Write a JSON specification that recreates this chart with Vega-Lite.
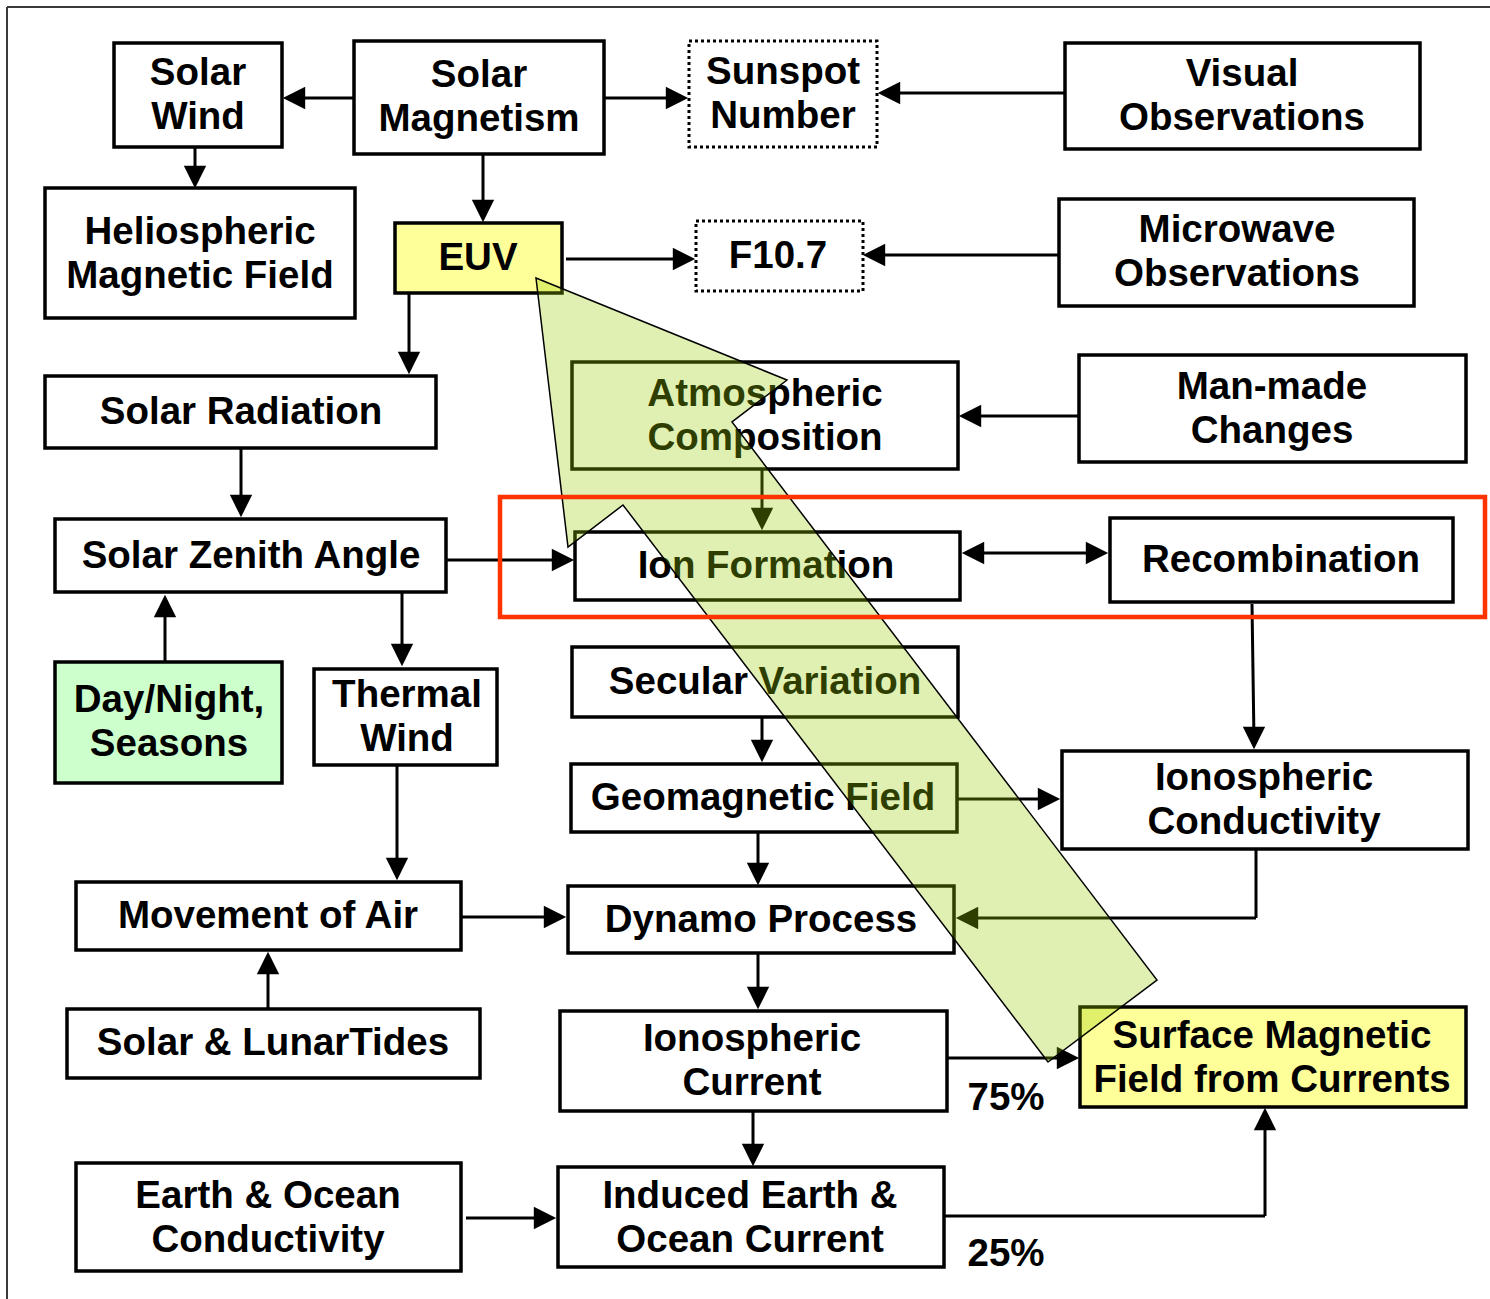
{
  "$schema": "https://vega.github.io/schema/vega-lite/v6.json",
  "width": 1490,
  "height": 1299,
  "autosize": "none",
  "padding": 0,
  "background": "white",
  "config": {"view": {"stroke": null}},
  "datasets": {
    "frame": [
      {"x1": 7, "y1": 7, "x2": 1490, "y2": 7},
      {"x1": 7, "y1": 7, "x2": 7, "y2": 1299}
    ],
    "boxes": [
      {"name": "Solar\nWind", "lines": 2, "x1": 114, "y1": 43, "x2": 282, "y2": 147, "cx": 198, "cy": 95, "fillKind": "white", "border": "solid"},
      {"name": "Solar\nMagnetism", "lines": 2, "x1": 354, "y1": 41, "x2": 604, "y2": 154, "cx": 479, "cy": 97, "fillKind": "white", "border": "solid"},
      {"name": "Sunspot\nNumber", "lines": 2, "x1": 689, "y1": 41, "x2": 877, "y2": 147, "cx": 783, "cy": 94, "fillKind": "white", "border": "dotted"},
      {"name": "Visual\nObservations", "lines": 2, "x1": 1065, "y1": 43, "x2": 1420, "y2": 149, "cx": 1242, "cy": 96, "fillKind": "white", "border": "solid"},
      {"name": "Heliospheric\nMagnetic Field", "lines": 2, "x1": 45, "y1": 188, "x2": 355, "y2": 318, "cx": 200, "cy": 254, "fillKind": "white", "border": "solid"},
      {"name": "EUV", "lines": 1, "x1": 395, "y1": 223, "x2": 562, "y2": 293, "cx": 478, "cy": 258, "fillKind": "yellow", "border": "solid"},
      {"name": "F10.7", "lines": 1, "x1": 696, "y1": 221, "x2": 863, "y2": 291, "cx": 778, "cy": 256, "fillKind": "white", "border": "dotted"},
      {"name": "Microwave\nObservations", "lines": 2, "x1": 1059, "y1": 199, "x2": 1414, "y2": 306, "cx": 1237, "cy": 252, "fillKind": "white", "border": "solid"},
      {"name": "Solar Radiation", "lines": 1, "x1": 45, "y1": 376, "x2": 436, "y2": 448, "cx": 241, "cy": 412, "fillKind": "white", "border": "solid"},
      {"name": "Atmospheric\nComposition", "lines": 2, "x1": 572, "y1": 362, "x2": 958, "y2": 469, "cx": 765, "cy": 416, "fillKind": "white", "border": "solid"},
      {"name": "Man-made\nChanges", "lines": 2, "x1": 1079, "y1": 355, "x2": 1466, "y2": 462, "cx": 1272, "cy": 409, "fillKind": "white", "border": "solid"},
      {"name": "Solar Zenith Angle", "lines": 1, "x1": 55, "y1": 519, "x2": 446, "y2": 592, "cx": 251, "cy": 556, "fillKind": "white", "border": "solid"},
      {"name": "Ion Formation", "lines": 1, "x1": 575, "y1": 532, "x2": 960, "y2": 600, "cx": 766, "cy": 566, "fillKind": "white", "border": "solid"},
      {"name": "Recombination", "lines": 1, "x1": 1110, "y1": 518, "x2": 1453, "y2": 602, "cx": 1281, "cy": 560, "fillKind": "white", "border": "solid"},
      {"name": "Day/Night,\nSeasons", "lines": 2, "x1": 55, "y1": 662, "x2": 282, "y2": 783, "cx": 169, "cy": 722, "fillKind": "green", "border": "solid"},
      {"name": "Thermal\nWind", "lines": 2, "x1": 314, "y1": 669, "x2": 497, "y2": 765, "cx": 407, "cy": 717, "fillKind": "white", "border": "solid"},
      {"name": "Secular Variation", "lines": 1, "x1": 572, "y1": 647, "x2": 958, "y2": 717, "cx": 765, "cy": 682, "fillKind": "white", "border": "solid"},
      {"name": "Geomagnetic Field", "lines": 1, "x1": 571, "y1": 764, "x2": 957, "y2": 832, "cx": 763, "cy": 798, "fillKind": "white", "border": "solid"},
      {"name": "Ionospheric\nConductivity", "lines": 2, "x1": 1062, "y1": 751, "x2": 1468, "y2": 849, "cx": 1264, "cy": 800, "fillKind": "white", "border": "solid"},
      {"name": "Movement of Air", "lines": 1, "x1": 76, "y1": 882, "x2": 461, "y2": 950, "cx": 268, "cy": 916, "fillKind": "white", "border": "solid"},
      {"name": "Dynamo Process", "lines": 1, "x1": 568, "y1": 886, "x2": 954, "y2": 953, "cx": 761, "cy": 920, "fillKind": "white", "border": "solid"},
      {"name": "Solar & LunarTides", "lines": 1, "x1": 67, "y1": 1009, "x2": 480, "y2": 1078, "cx": 273, "cy": 1043, "fillKind": "white", "border": "solid"},
      {"name": "Ionospheric\nCurrent", "lines": 2, "x1": 560, "y1": 1011, "x2": 947, "y2": 1111, "cx": 752, "cy": 1061, "fillKind": "white", "border": "solid"},
      {"name": "Surface Magnetic\nField from Currents", "lines": 2, "x1": 1080, "y1": 1007, "x2": 1466, "y2": 1107, "cx": 1272, "cy": 1058, "fillKind": "yellow", "border": "solid"},
      {"name": "Earth & Ocean\nConductivity", "lines": 2, "x1": 76, "y1": 1163, "x2": 461, "y2": 1271, "cx": 268, "cy": 1218, "fillKind": "white", "border": "solid"},
      {"name": "Induced Earth &\nOcean Current", "lines": 2, "x1": 558, "y1": 1167, "x2": 944, "y2": 1267, "cx": 750, "cy": 1218, "fillKind": "white", "border": "solid"}
    ],
    "segs": [
      {"x1": 354, "y1": 98, "x2": 290, "y2": 98},
      {"x1": 195, "y1": 147, "x2": 195, "y2": 180},
      {"x1": 604, "y1": 98, "x2": 680, "y2": 98},
      {"x1": 1065, "y1": 93, "x2": 885, "y2": 93},
      {"x1": 483, "y1": 154, "x2": 483, "y2": 214},
      {"x1": 566, "y1": 259, "x2": 688, "y2": 259},
      {"x1": 1059, "y1": 255, "x2": 870, "y2": 255},
      {"x1": 409, "y1": 293, "x2": 409, "y2": 366},
      {"x1": 241, "y1": 448, "x2": 241, "y2": 509},
      {"x1": 1079, "y1": 416, "x2": 966, "y2": 416},
      {"x1": 762, "y1": 469, "x2": 762, "y2": 522},
      {"x1": 446, "y1": 560, "x2": 566, "y2": 560},
      {"x1": 970, "y1": 553, "x2": 1100, "y2": 553},
      {"x1": 1252, "y1": 604, "x2": 1254, "y2": 741},
      {"x1": 165, "y1": 662, "x2": 165, "y2": 603},
      {"x1": 402, "y1": 592, "x2": 402, "y2": 658},
      {"x1": 762, "y1": 717, "x2": 762, "y2": 754},
      {"x1": 957, "y1": 799, "x2": 1052, "y2": 799},
      {"x1": 397, "y1": 765, "x2": 397, "y2": 872},
      {"x1": 758, "y1": 832, "x2": 758, "y2": 878},
      {"x1": 1256, "y1": 849, "x2": 1256, "y2": 918},
      {"x1": 1256, "y1": 918, "x2": 964, "y2": 918},
      {"x1": 461, "y1": 917, "x2": 558, "y2": 917},
      {"x1": 268, "y1": 1009, "x2": 268, "y2": 960},
      {"x1": 758, "y1": 953, "x2": 758, "y2": 1001},
      {"x1": 947, "y1": 1058, "x2": 1071, "y2": 1058},
      {"x1": 753, "y1": 1111, "x2": 753, "y2": 1159},
      {"x1": 466, "y1": 1218, "x2": 548, "y2": 1218},
      {"x1": 944, "y1": 1216, "x2": 1265, "y2": 1216},
      {"x1": 1265, "y1": 1216, "x2": 1265, "y2": 1116}
    ],
    "heads": [
      {"cx": 294, "cy": 98, "dir": "left"},
      {"cx": 195, "cy": 177, "dir": "down"},
      {"cx": 677, "cy": 98, "dir": "right"},
      {"cx": 889, "cy": 93, "dir": "left"},
      {"cx": 483, "cy": 211, "dir": "down"},
      {"cx": 684, "cy": 259, "dir": "right"},
      {"cx": 874, "cy": 255, "dir": "left"},
      {"cx": 409, "cy": 363, "dir": "down"},
      {"cx": 241, "cy": 506, "dir": "down"},
      {"cx": 970, "cy": 416, "dir": "left"},
      {"cx": 762, "cy": 519, "dir": "down"},
      {"cx": 563, "cy": 560, "dir": "right"},
      {"cx": 973, "cy": 553, "dir": "left"},
      {"cx": 1097, "cy": 553, "dir": "right"},
      {"cx": 1254, "cy": 738, "dir": "down"},
      {"cx": 165, "cy": 606, "dir": "up"},
      {"cx": 402, "cy": 655, "dir": "down"},
      {"cx": 762, "cy": 751, "dir": "down"},
      {"cx": 1049, "cy": 799, "dir": "right"},
      {"cx": 397, "cy": 869, "dir": "down"},
      {"cx": 758, "cy": 874, "dir": "down"},
      {"cx": 967, "cy": 918, "dir": "left"},
      {"cx": 555, "cy": 917, "dir": "right"},
      {"cx": 268, "cy": 963, "dir": "up"},
      {"cx": 758, "cy": 998, "dir": "down"},
      {"cx": 1068, "cy": 1058, "dir": "right"},
      {"cx": 753, "cy": 1155, "dir": "down"},
      {"cx": 545, "cy": 1218, "dir": "right"},
      {"cx": 1265, "cy": 1119, "dir": "up"}
    ],
    "highlight": [
      {"x1": 500, "y1": 497, "x2": 1485, "y2": 617}
    ],
    "overlay": [
      {"i": 0, "x": 536, "y": 278},
      {"i": 1, "x": 787, "y": 380},
      {"i": 2, "x": 732, "y": 422},
      {"i": 3, "x": 1157, "y": 980},
      {"i": 4, "x": 1048, "y": 1062},
      {"i": 5, "x": 623, "y": 505},
      {"i": 6, "x": 568, "y": 547}
    ],
    "pct": [
      {"cx": 1006, "cy": 1098, "label": "75%"},
      {"cx": 1006, "cy": 1254, "label": "25%"}
    ]
  },
  "layer": [
    {
      "data": {"name": "frame"},
      "mark": {"type": "rule", "color": "#3a3a3a", "strokeWidth": 2},
      "encoding": {
        "x": {"field": "x1", "type": "quantitative", "scale": {"domain": [0, 1490], "nice": false, "zero": false}, "axis": null},
        "y": {"field": "y1", "type": "quantitative", "scale": {"domain": [0, 1299], "nice": false, "zero": false, "reverse": true}, "axis": null},
        "x2": {"field": "x2"},
        "y2": {"field": "y2"}
      }
    },
    {
      "data": {"name": "boxes"},
      "transform": [{"filter": "datum.border === 'solid'"}],
      "mark": {"type": "rect", "stroke": "black", "strokeWidth": 3.5},
      "encoding": {
        "x": {"field": "x1", "type": "quantitative", "axis": null},
        "y": {"field": "y1", "type": "quantitative", "axis": null},
        "x2": {"field": "x2"},
        "y2": {"field": "y2"},
        "fill": {"field": "fillKind", "type": "nominal", "legend": null, "scale": {"domain": ["white", "yellow", "green"], "range": ["#FFFFFF", "#FFFF99", "#CCFFCC"]}}
      }
    },
    {
      "data": {"name": "boxes"},
      "transform": [{"filter": "datum.border === 'dotted'"}],
      "mark": {"type": "rect", "stroke": "black", "strokeWidth": 3, "strokeDash": [3, 3], "fill": "white"},
      "encoding": {
        "x": {"field": "x1", "type": "quantitative", "axis": null},
        "y": {"field": "y1", "type": "quantitative", "axis": null},
        "x2": {"field": "x2"},
        "y2": {"field": "y2"}
      }
    },
    {
      "data": {"name": "segs"},
      "mark": {"type": "rule", "color": "black", "strokeWidth": 3},
      "encoding": {
        "x": {"field": "x1", "type": "quantitative", "axis": null},
        "y": {"field": "y1", "type": "quantitative", "axis": null},
        "x2": {"field": "x2"},
        "y2": {"field": "y2"}
      }
    },
    {
      "data": {"name": "heads"},
      "mark": {"type": "point", "filled": true, "color": "black", "opacity": 1, "size": 500},
      "encoding": {
        "x": {"field": "cx", "type": "quantitative", "axis": null},
        "y": {"field": "cy", "type": "quantitative", "axis": null},
        "shape": {"field": "dir", "type": "nominal", "legend": null, "scale": {"domain": ["right", "left", "down", "up"], "range": ["M-1,-1L1,0L-1,1Z", "M1,-1L-1,0L1,1Z", "M-1,-1L1,-1L0,1Z", "M-1,1L1,1L0,-1Z"]}}
      }
    },
    {
      "data": {"name": "boxes"},
      "transform": [{"filter": "datum.lines === 1"}],
      "mark": {"type": "text", "font": "Liberation Sans", "fontWeight": "bold", "fontSize": 38.5, "align": "center", "baseline": "middle", "color": "black"},
      "encoding": {
        "x": {"field": "cx", "type": "quantitative", "axis": null},
        "y": {"field": "cy", "type": "quantitative", "axis": null},
        "text": {"field": "name", "type": "nominal"}
      }
    },
    {
      "data": {"name": "boxes"},
      "transform": [{"filter": "datum.lines === 2"}],
      "mark": {"type": "text", "font": "Liberation Sans", "fontWeight": "bold", "fontSize": 38.5, "lineBreak": "\n", "lineHeight": 44, "dy": -22, "align": "center", "baseline": "middle", "color": "black"},
      "encoding": {
        "x": {"field": "cx", "type": "quantitative", "axis": null},
        "y": {"field": "cy", "type": "quantitative", "axis": null},
        "text": {"field": "name", "type": "nominal"}
      }
    },
    {
      "data": {"name": "overlay"},
      "mark": {"type": "line", "interpolate": "linear-closed", "fill": "#99CC00", "fillOpacity": 0.3, "stroke": "black", "strokeWidth": 1.5},
      "encoding": {
        "x": {"field": "x", "type": "quantitative", "axis": null},
        "y": {"field": "y", "type": "quantitative", "axis": null},
        "order": {"field": "i", "type": "quantitative"}
      }
    },
    {
      "data": {"name": "highlight"},
      "mark": {"type": "rect", "fill": null, "fillOpacity": 0, "stroke": "#FF3300", "strokeWidth": 4.5},
      "encoding": {
        "x": {"field": "x1", "type": "quantitative", "axis": null},
        "y": {"field": "y1", "type": "quantitative", "axis": null},
        "x2": {"field": "x2"},
        "y2": {"field": "y2"}
      }
    },
    {
      "data": {"name": "pct"},
      "mark": {"type": "text", "font": "Liberation Sans", "fontWeight": "bold", "fontSize": 38.5, "align": "center", "baseline": "middle", "color": "black"},
      "encoding": {
        "x": {"field": "cx", "type": "quantitative", "axis": null},
        "y": {"field": "cy", "type": "quantitative", "axis": null},
        "text": {"field": "label", "type": "nominal"}
      }
    }
  ]
}
